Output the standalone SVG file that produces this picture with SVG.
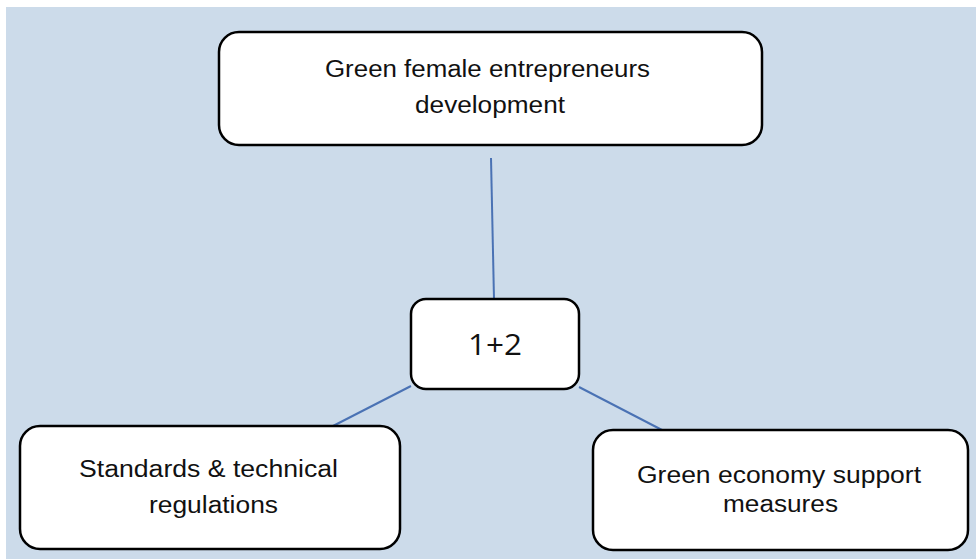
<svg xmlns="http://www.w3.org/2000/svg" width="976" height="559" viewBox="0 0 976 559">
<style>
.box{fill:#ffffff;stroke:#000000;stroke-width:2.5}
.lbl{font-family:"Liberation Sans",Arial,sans-serif;font-size:23.5px;fill:#111111;text-anchor:middle}
.num{font-family:"Open Sans","Liberation Sans",sans-serif;font-size:30px;fill:#111111;text-anchor:middle}
.conn{stroke:#4a72b4;stroke-width:2;fill:none}
</style>
<rect x="0" y="0" width="976" height="559" fill="#ffffff"/>
<rect x="6" y="7" width="970" height="552" fill="#ccdbea"/>
<g id="connectors">
<line class="conn" x1="491" y1="158" x2="494" y2="299"/>
<line class="conn" x1="411" y1="386" x2="333" y2="426"/>
<line class="conn" x1="579" y1="387" x2="662" y2="430"/>
</g>
<g id="node-top">
<rect class="box" x="219" y="32" width="543" height="113" rx="20"/>
<text class="lbl" x="487.5" y="77" textLength="325" lengthAdjust="spacingAndGlyphs">Green female entrepreneurs</text>
<text class="lbl" x="490" y="113" textLength="150" lengthAdjust="spacingAndGlyphs">development</text>
</g>
<g id="node-center">
<rect class="box" x="411" y="299" width="168" height="90" rx="15"/>
<text class="num" x="495" y="355" textLength="54" lengthAdjust="spacingAndGlyphs">1+2</text>
</g>
<g id="node-left">
<rect class="box" x="20" y="426" width="380" height="123" rx="20"/>
<text class="lbl" x="208.5" y="477" textLength="259" lengthAdjust="spacingAndGlyphs">Standards &amp; technical</text>
<text class="lbl" x="213.5" y="513" textLength="129" lengthAdjust="spacingAndGlyphs">regulations</text>
</g>
<g id="node-right">
<rect class="box" x="593" y="430" width="375" height="120" rx="20"/>
<text class="lbl" x="779" y="483" textLength="284" lengthAdjust="spacingAndGlyphs">Green economy support</text>
<text class="lbl" x="780.5" y="512" textLength="115" lengthAdjust="spacingAndGlyphs">measures</text>
</g>
</svg>
